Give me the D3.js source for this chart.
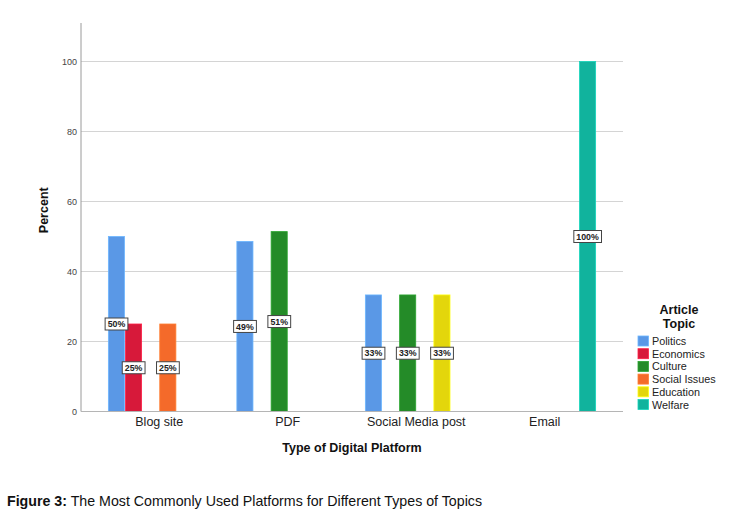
<!DOCTYPE html>
<html><head><meta charset="utf-8">
<script src="https://cdn.jsdelivr.net/npm/d3@7"></script>
<style>body{margin:0;background:#fff;} svg{display:block;font-family:"Liberation Sans",Arial,sans-serif;}</style>
</head><body>
<svg id="c" width="751" height="518"></svg>
<script>
const platforms = ["Blog site", "PDF", "Social Media post", "Email"];
const topics = ["Politics", "Economics", "Culture", "Social Issues", "Education", "Welfare"];
const topicColors = ["#5a98e6", "#d7193a", "#248b28", "#f46a2a", "#e3d60c", "#11b39d"];
// percent values per platform, per topic (null = no bar)
const blogValues   = [50, 25, null, 25, null, null];
const pdfValues    = [48.6, null, 51.4, null, null, null];
const socialValues = [33.3, null, 33.3, null, 33.3, null];
const emailValues  = [null, null, null, null, null, 100];
const valueLabels = {
  "Blog site": ["50%", "25%", null, "25%", null, null],
  "PDF": ["49%", null, "51%", null, null, null],
  "Social Media post": ["33%", null, "33%", null, "33%", null],
  "Email": [null, null, null, null, null, "100%"]
};
const yTicks = [0, 20, 40, 60, 80, 100];

(function () {
const rows = [blogValues, pdfValues, socialValues, emailValues];
const data = [];
platforms.forEach((p, i) => rows[i].forEach((v, j) => {
  if (v != null) data.push({platform: p, topic: topics[j], value: v, label: valueLabels[p][j]});
}));

const svg = d3.select("#c");
const pL = 81, pR = 623, pT = 23, pB = 411.5;

const y = d3.scaleLinear().domain([0, 111]).range([pB, pT]);
const x0 = d3.scaleBand().domain(platforms).range([pL, pR]).paddingInner(0.2).paddingOuter(0.209);
const x1 = d3.scaleBand().domain(topics).range([0, x0.bandwidth()]).paddingInner(0.06).paddingOuter(0.03);
const color = d3.scaleOrdinal().domain(topics).range(topicColors);

// gridlines
svg.append("g").selectAll("line").data(yTicks.filter(d => d > 0)).join("line")
  .attr("x1", pL).attr("x2", pR).attr("y1", d => y(d)).attr("y2", d => y(d))
  .attr("stroke", "#d4d4d4").attr("stroke-width", 1.2);

// y axis
const yAxis = svg.append("g").attr("transform", `translate(${pL},0)`)
  .call(d3.axisLeft(y).tickValues(yTicks).tickSize(0).tickPadding(4));
yAxis.select(".domain").remove();
yAxis.selectAll("text").attr("font-size", 9).attr("fill", "#444").attr("font-family", "Liberation Sans, Arial, sans-serif");
svg.append("line").attr("x1", pL).attr("x2", pL).attr("y1", pT).attr("y2", pB)
  .attr("stroke", "#9a9a9a").attr("stroke-width", 1);

// bars
svg.append("g").selectAll("rect").data(data).join("rect")
  .attr("x", d => x0(d.platform) + x1(d.topic))
  .attr("width", x1.bandwidth())
  .attr("y", d => y(d.value))
  .attr("height", d => y(0) - y(d.value))
  .attr("fill", d => color(d.topic))
  .attr("stroke", d => d3.color(color(d.topic)).brighter(0.5))
  .attr("stroke-width", 0.8);

// x baseline
svg.append("line").attr("x1", pL).attr("x2", pR).attr("y1", pB).attr("y2", pB)
  .attr("stroke", "#b5b5b5").attr("stroke-width", 1.2);

// x axis labels
const xAxis = svg.append("g").attr("transform", `translate(0,${pB})`)
  .call(d3.axisBottom(x0).tickSize(0).tickPadding(6));
xAxis.select(".domain").remove();
xAxis.selectAll("text").attr("font-size", 12.5).attr("fill", "#222").attr("font-family", "Liberation Sans, Arial, sans-serif");

// value labels
const lbl = svg.append("g").selectAll("g").data(data.filter(d => d.label)).join("g")
  .attr("transform", d => `translate(${x0(d.platform) + x1(d.topic) + x1.bandwidth() / 2},${y(d.value / 2)})`);
lbl.each(function(d) {
  const g = d3.select(this);
  const t = g.append("text").text(d.label).attr("text-anchor", "middle").attr("dy", "0.35em")
    .attr("font-size", 8.8).attr("font-weight", "bold").attr("fill", "#222");
  const bb = t.node().getBBox();
  g.insert("rect", "text").attr("x", bb.x - 2.5).attr("y", -6).attr("width", bb.width + 5).attr("height", 12)
    .attr("fill", "#fff").attr("stroke", "#444").attr("stroke-width", 1);
});

// axis titles
svg.append("text").attr("transform", `translate(48,${(pT + pB) / 2 - 7}) rotate(-90)`)
  .attr("text-anchor", "middle").attr("font-size", 12.5).attr("font-weight", "bold").attr("fill", "#111").text("Percent");
svg.append("text").attr("x", (pL + pR) / 2).attr("y", 452)
  .attr("text-anchor", "middle").attr("font-size", 12.5).attr("font-weight", "bold").attr("fill", "#111").text("Type of Digital Platform");

// legend
const lg = svg.append("g");
lg.append("text").attr("x", 679).attr("y", 314).attr("text-anchor", "middle").attr("font-size", 12.5)
  .attr("font-weight", "bold").attr("fill", "#111").text("Article");
lg.append("text").attr("x", 679).attr("y", 327.5).attr("text-anchor", "middle").attr("font-size", 12.5)
  .attr("font-weight", "bold").attr("fill", "#111").text("Topic");
const li = lg.selectAll("g.item").data(topics).join("g").attr("class", "item")
  .attr("transform", (d, i) => `translate(638,${336 + i * 12.7})`);
li.append("rect").attr("width", 10.5).attr("height", 10).attr("fill", d => color(d))
  .attr("stroke", d => d3.color(color(d)).brighter(0.5)).attr("stroke-width", 0.8);
li.append("text").attr("x", 14).attr("y", 9).attr("font-size", 10.8).attr("fill", "#222").text(d => d);

// caption
const cap = svg.append("text").attr("x", 7).attr("y", 506).attr("font-size", 15).attr("fill", "#111")
  .attr("textLength", 475).attr("lengthAdjust", "spacingAndGlyphs");
cap.append("tspan").attr("font-weight", "bold").text("Figure 3:");
cap.append("tspan").text(" The Most Commonly Used Platforms for Different Types of Topics");
})();
</script>
</body></html>
